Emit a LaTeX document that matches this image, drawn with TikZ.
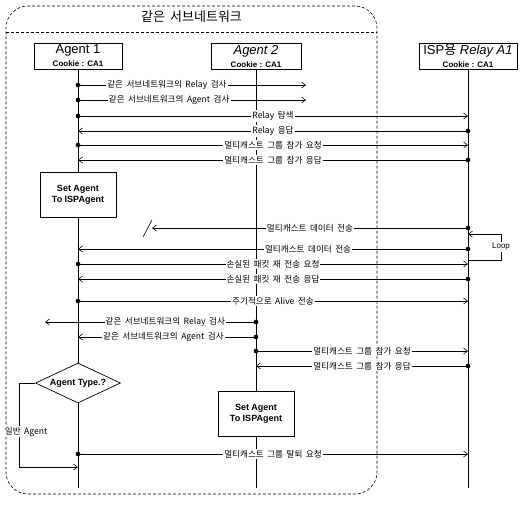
\documentclass[tikz,border=0pt]{standalone}
\usepackage{fontspec}
\setmainfont{Liberation Sans}
\newfontfamily\hangul[WordSpace=1.8]{Noto Sans CJK KR}
\usetikzlibrary{arrows.meta,positioning,shapes.geometric}
\newcommand\cookiefont{\bfseries\fontsize{8}{9}\selectfont}

\begin{document}
\begin{tikzpicture}[x=1pt, y=-1pt, >={Straight Barb[length=4pt,width=6pt]},
  every node/.style={font=\fontsize{8.5}{9}\selectfont},
  region/.style={draw, dash pattern=on 3pt off 2pt, line width=.6pt},
  head/.style={draw, line width=.7pt, minimum height=26pt, inner sep=1pt, align=center,
    font=\fontsize{13}{14}\selectfont},
  life/.style={line width=.5pt},
  msg/.style={line width=.6pt, shorten <=-2.3pt,
    {Circle[length=4.6pt]}-{Straight Barb[length=4pt,width=6pt]}},
  arr/.style={line width=.6pt, ->},
  lbl/.style={fill=white, inner sep=1pt, font=\hangul\fontsize{8.6}{9}\selectfont},
  setbox/.style={draw, fill=white, line width=.7pt, minimum width=76pt, minimum height=45pt,
    align=center, font=\bfseries\fontsize{9}{11}\selectfont},
  decide/.style={diamond, draw, fill=white, line width=.7pt, aspect=2.1, inner sep=0pt,
    minimum width=85pt, minimum height=40pt, font=\bfseries\fontsize{9}{10}\selectfont}]
  \useasboundingbox (0,0) rectangle (525,504);

  % same subnetwork frame
  \node[region, rounded corners=22pt, minimum width=371pt, minimum height=488pt]
    (subnet) at (191.5,250) {};
  \node[font=\hangul\fontsize{13}{14}\selectfont, below=2pt of subnet.north] (ttl) {같은 서브네트워크};
  \draw[region] ([yshift=-27pt]subnet.north west) -- ([yshift=-27pt]subnet.north east);

  % participants
  \node[head, minimum width=88pt] (a1) at (78,56) {Agent 1\\[-1pt]{\cookiefont Cookie : CA1}};
  \node[head, minimum width=90pt] (a2) at (256,56) {\textit{Agent 2}\\[-1pt]{\cookiefont Cookie : CA1}};
  \node[head, minimum width=98pt] (ra) at (468,56)
    {ISP{\hangul 용} \textit{Relay A1}\\[-1pt]{\cookiefont Cookie : CA1}};

  \coordinate (bot) at (0,488);
  \draw[life] (a1.south) -- (a1.south |- bot);
  \draw[life] (a2.south) -- (a2.south |- bot);
  \draw[life] (ra.south) -- (ra.south |- bot);

  % message rows
  \coordinate (m1) at (0,85);   \coordinate (m2) at (0,100);
  \coordinate (m3) at (0,116);  \coordinate (m4) at (0,131);
  \coordinate (m5) at (0,145);  \coordinate (m6) at (0,160);
  \coordinate (m7) at (0,228);  \coordinate (m8) at (0,249);
  \coordinate (m9) at (0,264);  \coordinate (m10) at (0,279);
  \coordinate (m11) at (0,301); \coordinate (m12) at (0,322);
  \coordinate (m13) at (0,337); \coordinate (m14) at (0,351);
  \coordinate (m15) at (0,366); \coordinate (m16) at (0,454);
  \coordinate (m17) at (0,467);
  \coordinate (lpt) at (0,234); \coordinate (lpb) at (0,260);
  \coordinate (chk1) at (306,85);
  \coordinate (chk2) at (306,100);
  \coordinate (lost) at (152,228);
  \coordinate (chk3) at (45,322);

  % boxes on the lifelines
  \node[setbox] (set1) at (78,194.5) {Set Agent\\To ISPAgent};
  \node[setbox] (set2) at (256,414) {Set Agent\\To ISPAgent};
  \node[decide] (type) at (78,383) {Agent Type.?};

  \draw[msg] (a1 |- m1) -- node[lbl,pos=.39]{같은 서브네트워크의 Relay 검사} (chk1);
  \draw[msg] (a1 |- m2) -- node[lbl,pos=.40]{같은 서브네트워크의 Agent 검사} (chk2);
  \draw[msg] (a1 |- m3) -- node[lbl]{Relay 탐색} (ra |- m3);
  \draw[msg] (ra |- m4) -- node[lbl]{Relay 응답} (a1 |- m4);
  \draw[msg] (a1 |- m5) -- node[lbl]{멀티캐스트 그룹 참가 요청} (ra |- m5);
  \draw[msg] (ra |- m6) -- node[lbl]{멀티캐스트 그룹 참가 응답} (a1 |- m6);
  \draw[msg] (ra |- m7) -- node[lbl]{멀티캐스트 데이터 전송} (lost);
  \draw[line width=.6pt] (lost) ++(-9,9) -- ++(9,-17);
  \draw[arr] (ra |- lpb) -- ++(33,0) -- node[lbl, font=\fontsize{8}{9}\selectfont]{Loop} ++(0,-26) -- (ra |- lpt);
  \draw[msg] (ra |- m8) -- node[lbl,pos=.41]{멀티캐스트 데이터 전송} (a1 |- m8);
  \draw[msg] (a1 |- m9) -- node[lbl]{손실된 패킷 재 전송 요청} (ra |- m9);
  \draw[msg] (ra |- m10) -- node[lbl]{손실된 패킷 재 전송 응답} (a1 |- m10);
  \draw[msg] (a1 |- m11) -- node[lbl]{주기적으로 Alive 전송} (ra |- m11);
  \draw[msg] (a2 |- m12) -- node[lbl,pos=.43]{같은 서브네트워크의 Relay 검사} (chk3);
  \draw[msg] (a2 |- m13) -- node[lbl,pos=.52]{같은 서브네트워크의 Agent 검사} (a1 |- m13);
  \draw[msg] (a2 |- m14) -- node[lbl]{멀티캐스트 그룹 참가 요청} (ra |- m14);
  \draw[msg] (ra |- m15) -- node[lbl]{멀티캐스트 그룹 참가 응답} (a2 |- m15);
  \draw[arr] (type.west) -- ++(-16,0) -- node[lbl,pos=.58,xshift=7pt]{일반 Agent} ++(0,84) -- (a1 |- m17);
  \draw[msg] (a1 |- m16) -- node[lbl]{멀티캐스트 그룹 탈퇴 요청} (ra |- m16);
\end{tikzpicture}
\end{document}
